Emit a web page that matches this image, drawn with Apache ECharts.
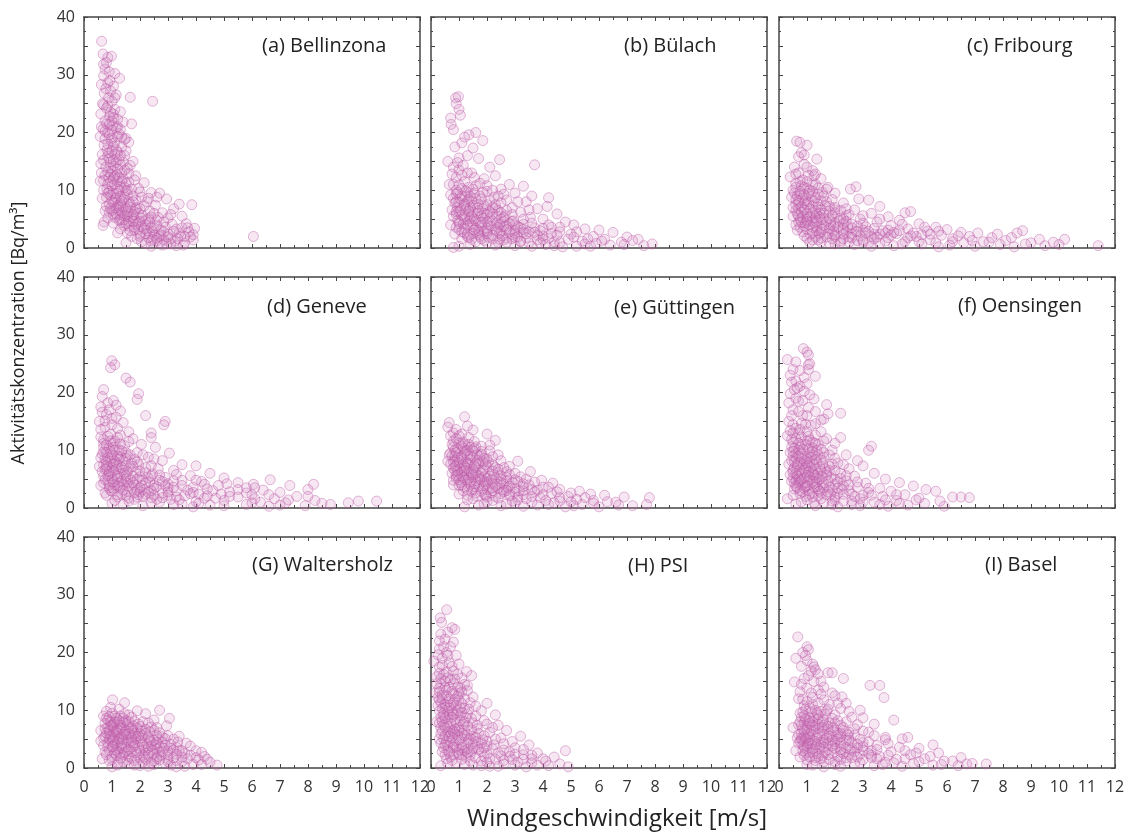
<!DOCTYPE html>
<html>
<head>
<meta charset="utf-8">
<script src="https://cdn.jsdelivr.net/npm/echarts@6/dist/echarts.min.js"></script>
<style>
  html, body { margin: 0; padding: 0; background: #fff; }
  #windChart { width: 1138px; height: 834px; }
</style>
</head>
<body>
<div id="windChart"></div>
<script>
// Stationen (Reihenfolge: Zeile für Zeile)
const stationNames = ['(a) Bellinzona', '(b) Bülach', '(c) Fribourg', '(d) Geneve', '(e) Güttingen', '(f) Oensingen', '(G) Waltersholz', '(H) PSI', '(I) Basel']
const xTicks = [0, 1, 2, 3, 4, 5, 6, 7, 8, 9, 10, 11, 12]
const yTicks = [0, 10, 20, 30, 40]

// [Windgeschwindigkeit m/s, Aktivitätskonzentration Bq/m3]
const bellinzona = [[0.63,35.8],[0.68,33.6],[0.98,33.2],[0.8,32.1],[0.75,31.0],[0.9,30.5],[0.7,29.8],[1.27,29.4],[0.85,28.6],[0.62,28.3],[1.05,28.0],[0.95,27.2],[0.72,26.8],[1.15,26.5],[0.88,26.0],[1.0,25.4],[1.65,26.1],[2.45,25.4],[0.66,25.0],[0.8,24.2],[1.1,24.0],[1.3,23.6],[0.6,23.2],[0.92,22.8],[1.2,22.3],[0.75,22.0],[1.4,21.8],[1.7,21.5],[1.02,21.2],[0.68,20.6],[0.85,20.0],[1.25,19.8],[0.58,19.3],[1.5,19.0],[0.97,18.6],[1.1,18.2],[0.72,17.8],[1.35,17.5],[1.6,18.3],[0.82,17.0],[1.2,16.6],[0.65,16.2],[1.45,16.0],[0.9,15.5],[1.05,15.2],[1.75,15.0],[0.6,14.6],[1.3,14.4],[0.78,14.0],[1.55,13.8],[1.0,13.3],[0.62,13.0],[1.18,12.7],[1.85,12.5],[0.88,12.2],[1.4,12.0],[0.7,11.7],[1.6,11.4],[2.15,11.3],[1.08,11.0],[0.58,11.6],[1.3,10.6],[1.95,10.3],[0.82,10.2],[1.5,9.9],[2.4,9.6],[1.15,9.5],[2.7,9.5],[0.95,9.1],[1.75,9.0],[2.05,8.8],[0.65,8.6],[2.95,8.5],[1.4,8.4],[2.25,8.0],[1.05,7.9],[1.65,7.6],[3.85,7.5],[2.55,7.4],[0.8,7.2],[1.9,7.0],[3.2,6.8],[1.25,6.6],[2.35,6.4],[0.9,6.2],[2.8,6.1],[1.55,5.9],[3.5,5.5],[2.1,5.6],[1.1,5.3],[3.0,5.2],[1.8,5.0],[2.6,4.8],[0.72,4.5],[1.35,4.4],[3.65,4.2],[2.2,4.0],[1.6,3.8],[2.9,3.6],[3.3,3.3],[1.95,3.2],[0.68,3.9],[2.45,2.9],[3.75,2.8],[1.2,2.6],[2.75,2.3],[3.45,2.1],[1.7,2.0],[2.3,1.8],[3.1,1.6],[3.9,1.4],[2.6,1.3],[2.05,1.1],[3.6,0.9],[2.95,0.7],[1.5,0.9],[3.3,0.4],[2.4,0.3],[6.05,2.0],[1.0,19.0],[1.15,17.0],[0.88,16.5],[1.25,15.3],[1.05,14.2],[0.95,12.8],[1.35,13.0],[1.2,11.5],[1.0,10.8],[0.9,9.8],[1.45,10.5],[1.3,8.9],[1.1,8.3],[1.6,8.0],[1.4,7.0],[1.2,7.4],[1.8,6.3],[1.5,6.8],[1.0,6.5],[2.0,6.8],[1.7,5.4],[2.3,5.1],[1.45,4.9],[2.5,6.0],[2.0,4.6],[2.4,3.5],[1.85,4.1],[1.3,5.8],[3.8,1.9],[3.5,3.5],[2.2,2.5],[2.7,2.0]]
const bellinzonaDicht = [[0.7,24.8],[0.95,23.5],[1.05,22.6],[0.8,21.5],[1.15,20.8],[0.62,21.0],[0.9,19.6],[1.3,20.5],[0.75,18.9],[1.05,17.6],[1.45,18.8],[0.85,15.9],[1.15,14.8],[0.7,15.2],[1.4,14.9],[0.95,13.9],[1.25,12.2],[1.6,12.9],[0.75,12.6],[1.05,12.0],[1.5,11.2],[0.85,11.1],[1.25,9.9],[1.7,10.2],[0.7,10.0],[1.05,9.4],[1.55,9.3],[0.8,8.8],[1.35,8.1],[1.85,8.3],[0.9,7.6],[1.15,6.9],[1.65,7.1],[2.15,7.3],[0.75,6.4],[1.35,6.2],[1.95,6.0],[2.4,5.4],[1.05,5.7],[1.55,5.5],[2.65,5.3],[0.85,5.2],[1.25,4.8],[1.75,4.6],[2.2,4.7],[2.85,4.5],[1.05,4.3],[1.45,3.9],[2.05,3.7],[2.6,3.9],[3.15,4.1],[1.3,3.3],[1.8,3.1],[2.25,3.0],[2.75,3.1],[3.4,2.6],[1.55,2.6],[2.0,2.4],[2.5,2.2],[3.0,2.4],[3.6,2.0],[1.9,1.6],[2.45,1.5],[2.85,1.4],[3.25,1.2],[2.2,0.8],[2.7,0.9],[3.1,0.7],[3.55,0.5],[1.0,22.0],[0.85,24.6],[1.1,26.0],[0.78,27.6],[0.92,29.0],[1.1,30.2],[0.7,31.8],[0.85,33.0],[1.2,21.0],[1.35,19.2],[1.5,16.8],[1.65,14.3],[1.8,11.8],[2.0,9.7],[2.3,8.6],[2.6,8.8],[3.4,7.6],[3.1,5.8],[3.7,3.5],[3.9,2.3],[3.95,3.4]]
const bellinzonaKern = [[0.75,20.2],[1.0,20.4],[1.2,19.3],[0.85,18.0],[1.1,16.2],[1.3,16.0],[0.95,14.9],[1.2,13.6],[1.45,13.5],[0.85,13.2],[1.1,12.4],[1.35,11.6],[0.95,11.5],[1.2,10.2],[1.55,10.0],[0.85,9.5],[1.15,8.7],[1.45,8.8],[1.0,8.0],[1.3,7.7],[1.75,8.0],[0.95,6.9],[1.25,7.1],[1.55,6.3],[1.85,6.8],[1.15,6.0],[1.45,5.6],[1.75,5.8],[2.05,5.2],[1.3,5.0],[1.6,4.6],[1.95,4.3],[2.35,4.4],[1.5,4.2],[1.8,3.6],[2.15,3.4],[2.5,3.5],[2.85,2.8],[1.65,3.0],[2.0,2.0],[2.35,2.5],[2.6,1.7],[3.0,1.9],[3.35,1.6],[2.4,1.2],[2.8,0.5],[3.2,2.9],[1.0,16.8],[0.9,21.4],[1.05,23.2]]
const buelach = [[0.88,26.0],[0.98,26.2],[0.9,25.0],[1.0,24.0],[1.05,23.0],[0.7,22.5],[0.72,21.4],[0.8,20.5],[1.6,20.0],[1.35,19.6],[1.85,18.6],[1.2,19.2],[0.85,17.5],[1.5,17.3],[1.1,18.2],[0.6,15.0],[0.95,14.8],[2.45,15.3],[3.7,14.4],[1.3,16.0],[1.7,15.5],[2.1,14.0],[1.0,13.5],[1.45,13.0],[2.3,12.5],[0.75,12.8],[1.9,12.0],[2.8,11.0],[3.3,10.7],[1.2,11.5],[0.65,11.0],[1.6,10.8],[2.5,10.2],[0.9,10.0],[2.0,9.8],[3.0,9.5],[1.3,9.6],[3.6,9.0],[4.2,8.7],[0.7,9.2],[1.75,9.0],[2.25,8.8],[1.05,8.5],[2.7,8.3],[1.45,8.1],[3.4,8.0],[0.85,7.8],[2.0,7.5],[4.15,7.2],[1.2,7.3],[2.9,7.0],[1.65,7.0],[3.8,6.8],[0.75,6.6],[2.4,6.5],[1.0,6.3],[3.2,6.2],[1.9,6.0],[4.5,5.9],[1.35,5.8],[2.65,5.6],[0.8,5.5],[3.55,5.3],[2.1,5.2],[1.55,5.0],[4.0,5.0],[0.95,4.8],[2.95,4.7],[1.8,4.5],[4.8,4.5],[2.35,4.3],[1.15,4.2],[3.3,4.1],[5.1,4.0],[0.7,4.0],[2.7,3.8],[1.5,3.7],[4.3,3.6],[3.7,3.5],[2.0,3.4],[5.5,3.3],[1.0,3.2],[3.0,3.0],[6.0,3.1],[2.5,2.9],[4.6,2.8],[1.7,2.7],[6.5,2.7],[3.4,2.5],[0.85,2.4],[5.0,2.4],[2.2,2.2],[4.0,2.1],[1.3,2.0],[5.8,2.0],[3.1,1.9],[7.0,1.9],[2.7,1.7],[4.9,1.5],[6.2,1.5],[3.8,1.4],[1.9,1.3],[5.4,1.2],[7.4,1.5],[4.4,1.1],[6.8,1.0],[2.4,1.0],[3.5,0.9],[5.9,0.8],[7.9,0.7],[4.1,0.6],[6.4,0.5],[3.0,0.4],[5.2,0.3],[0.8,0.1],[1.0,0.3],[7.6,0.4],[4.7,0.2],[1.1,10.3],[1.4,9.0],[1.6,8.5],[1.25,6.8],[1.5,6.2],[2.2,7.0],[1.8,5.5],[2.5,5.0],[2.05,4.0],[1.35,4.6],[2.8,4.2],[3.2,3.5],[1.7,3.0],[2.4,3.6],[3.5,2.8],[2.9,2.3],[1.2,2.6],[3.9,3.0],[4.3,2.5],[2.0,2.5],[1.45,1.5],[2.6,1.4]]
const buelachDicht = [[0.8,14.0],[1.0,15.6],[1.15,14.3],[1.3,13.0],[0.9,12.2],[1.1,12.6],[1.55,12.2],[1.75,11.2],[0.8,11.0],[1.0,10.9],[1.35,10.5],[2.0,10.8],[2.2,10.0],[0.9,9.3],[1.2,8.9],[1.55,9.5],[1.85,9.6],[2.4,9.0],[2.6,9.3],[0.8,8.6],[1.0,7.9],[1.3,8.0],[1.7,7.6],[2.1,8.2],[2.5,7.8],[3.1,8.0],[0.95,7.0],[1.4,7.0],[1.85,6.8],[2.3,6.9],[2.7,6.5],[3.5,6.6],[0.9,5.9],[1.2,5.4],[1.65,6.0],[2.0,5.8],[2.35,5.5],[2.9,5.8],[3.3,5.0],[1.0,4.5],[1.4,5.1],[1.75,4.4],[2.2,4.7],[2.6,4.6],[3.0,4.0],[3.6,4.3],[4.2,4.0],[0.9,3.6],[1.3,3.9],[1.6,3.4],[2.3,3.3],[2.7,3.2],[3.3,3.2],[4.0,3.4],[4.6,3.6],[1.1,2.8],[1.5,2.5],[1.9,2.8],[2.45,2.5],[3.0,2.6],[3.7,2.7],[4.5,2.2],[5.2,2.8],[1.35,1.8],[1.75,2.0],[2.2,1.6],[2.9,1.6],[3.4,1.8],[4.2,1.7],[5.1,1.9],[5.6,1.6],[1.6,1.1],[2.0,0.9],[2.7,1.0],[3.2,1.2],[3.9,0.9],[4.6,0.9],[5.5,0.7],[6.1,1.2],[6.9,0.6],[7.2,1.3],[2.3,0.5],[3.6,0.3],[4.4,0.4],[5.7,0.3],[1.4,0.6]]
const buelachKern = [[0.95,9.6],[1.25,9.9],[1.5,10.2],[1.1,9.0],[1.35,8.4],[1.8,8.5],[0.9,8.0],[1.2,7.6],[1.5,7.4],[1.9,7.3],[2.3,7.5],[1.05,6.6],[1.35,6.4],[1.7,6.5],[2.1,6.3],[2.5,6.1],[0.9,6.3],[1.1,5.7],[1.45,5.5],[1.85,5.1],[2.2,5.9],[2.6,5.3],[1.2,4.9],[1.6,4.7],[2.0,4.5],[2.45,4.1],[2.9,4.6],[1.0,4.2],[1.4,4.1],[1.8,3.9],[2.15,3.8],[2.6,3.7],[3.1,3.7],[1.2,3.4],[1.55,3.1],[2.0,3.0],[2.35,2.9],[2.8,2.8],[3.3,2.7],[1.3,2.4],[1.7,2.3],[2.05,1.9],[2.55,2.1],[3.0,1.8],[3.8,2.2],[1.1,1.6],[1.8,1.6],[2.45,1.5],[3.2,1.1],[4.0,1.5]]
const fribourg = [[0.63,18.5],[0.75,18.3],[1.0,17.8],[0.8,16.5],[1.35,15.4],[0.9,14.5],[0.55,14.0],[1.2,13.4],[0.7,13.0],[1.05,12.6],[0.4,12.3],[1.5,12.0],[0.85,11.8],[0.6,11.2],[1.3,11.0],[1.75,10.5],[2.55,10.2],[2.75,10.6],[1.0,10.3],[0.5,10.0],[1.55,9.6],[0.75,9.4],[2.0,9.5],[1.15,9.0],[2.85,8.5],[3.2,8.3],[0.45,8.8],[1.7,8.0],[0.95,8.2],[2.3,7.8],[1.4,7.6],[3.6,7.2],[0.6,7.5],[2.0,7.0],[1.1,6.8],[2.7,6.6],[4.5,6.1],[4.7,6.3],[1.8,6.4],[0.8,6.2],[3.3,6.0],[1.35,5.8],[2.4,5.6],[0.5,5.5],[3.9,5.4],[1.6,5.2],[2.9,5.0],[1.0,5.0],[4.3,4.8],[2.15,4.7],[0.7,4.5],[3.5,4.5],[1.25,4.4],[5.0,4.2],[2.6,4.1],[1.85,4.0],[4.0,3.9],[0.9,3.8],[3.1,3.7],[5.6,3.6],[1.5,3.5],[2.3,3.4],[4.6,3.3],[6.0,3.2],[0.65,3.1],[3.7,3.0],[1.95,2.9],[5.3,2.9],[2.8,2.8],[6.5,2.7],[1.2,2.6],[4.2,2.5],[7.1,2.6],[3.4,2.4],[2.0,2.3],[5.8,2.2],[8.7,3.0],[8.5,2.6],[6.8,2.0],[0.9,2.1],[4.9,2.0],[2.5,1.9],[7.6,1.8],[3.9,1.8],[1.5,1.7],[6.2,1.6],[9.3,1.5],[10.2,1.5],[5.4,1.4],[3.0,1.4],[8.1,1.3],[2.2,1.2],[7.3,1.1],[4.5,1.1],[9.8,1.0],[1.1,1.0],[6.6,0.9],[8.8,0.7],[3.6,0.8],[5.1,0.7],[7.9,0.6],[2.7,0.6],[6.1,0.5],[9.5,0.4],[4.1,0.4],[11.4,0.4],[7.0,0.3],[8.4,0.2],[5.7,0.2],[10.0,0.6],[1.8,0.8],[3.3,0.3],[0.8,10.8],[1.1,10.0],[0.65,9.0],[1.3,8.7],[0.9,7.8],[1.2,7.2],[1.5,6.6],[0.7,6.8],[1.0,6.0],[1.9,5.7],[1.3,5.2],[0.85,5.3],[1.7,4.6],[2.2,5.2],[1.1,4.0],[1.6,3.9],[2.6,3.5],[1.35,3.0],[2.1,3.6],[3.0,3.1],[1.75,2.5],[2.4,2.7],[3.3,2.0],[1.3,1.9],[2.9,2.1],[3.8,2.6]]
const fribourgDicht = [[0.7,15.8],[0.9,16.1],[0.6,12.8],[1.0,14.0],[1.25,12.5],[0.75,11.5],[1.0,11.5],[1.4,10.4],[0.55,9.5],[0.9,9.2],[1.2,9.8],[1.6,9.0],[0.7,8.2],[1.05,8.0],[1.5,8.2],[1.9,8.4],[0.5,7.0],[0.8,7.2],[1.3,6.4],[1.65,7.3],[2.2,6.5],[0.65,5.9],[1.0,5.5],[1.45,6.0],[2.0,6.1],[2.5,5.8],[0.75,4.9],[1.2,4.7],[1.5,4.9],[2.0,4.3],[2.4,4.6],[3.0,4.3],[0.6,4.0],[0.95,4.3],[1.35,3.7],[1.8,3.4],[2.3,3.0],[2.8,3.8],[3.4,3.4],[3.9,3.1],[1.0,3.2],[1.45,2.5],[2.0,2.0],[2.6,2.4],[3.1,2.6],[3.6,2.4],[4.3,3.0],[4.8,2.6],[5.2,3.6],[1.2,1.4],[1.7,1.9],[2.3,1.6],[2.8,1.3],[3.4,1.6],[4.0,2.2],[4.6,1.8],[5.1,2.3],[5.7,2.9],[6.4,2.1],[1.5,1.0],[2.0,0.7],[2.5,1.0],[3.2,0.9],[3.8,1.2],[4.4,0.7],[5.0,1.1],[5.6,0.9],[6.2,1.1],[6.9,1.3],[7.5,1.0],[8.3,1.8],[9.0,0.9],[7.8,2.4],[4.4,4.1],[3.6,5.0],[3.0,5.6],[2.4,6.8],[1.7,10.2],[1.3,12.8]]
const fribourgKern = [[0.6,10.5],[0.9,10.5],[1.2,10.9],[0.75,9.8],[1.05,9.4],[1.4,9.3],[0.6,8.4],[0.85,8.6],[1.25,8.1],[0.7,7.7],[1.0,7.5],[1.4,7.1],[1.8,7.2],[0.6,6.5],[0.9,6.6],[1.2,6.1],[1.6,6.0],[2.0,6.6],[0.7,5.6],[1.1,5.4],[1.45,5.4],[1.8,5.1],[2.3,5.0],[0.8,4.5],[1.0,4.6],[1.35,4.5],[1.85,4.5],[2.3,4.2],[0.75,3.6],[1.2,3.6],[1.55,3.2],[1.95,3.8],[2.45,3.7],[0.85,2.8],[1.1,2.4],[1.5,2.8],[1.9,2.5],[2.3,2.4],[2.75,2.9],[1.0,1.7],[1.4,1.4],[1.9,1.6],[2.6,1.8],[3.2,2.9],[3.5,1.9],[4.1,2.7],[4.7,2.1],[5.4,2.4],[2.2,0.9],[3.0,1.1]]
const geneve = [[0.99,25.5],[1.1,24.8],[0.95,24.3],[1.5,22.5],[1.65,21.8],[0.7,20.5],[1.95,19.8],[0.65,19.3],[1.9,18.8],[1.15,17.8],[0.85,18.2],[1.05,18.6],[0.6,17.5],[1.3,16.8],[2.2,16.0],[0.8,16.2],[1.0,15.5],[0.55,15.0],[2.9,15.0],[2.85,14.4],[1.4,14.8],[0.75,14.0],[1.2,13.8],[1.6,13.2],[2.4,13.0],[0.95,12.8],[2.4,12.2],[0.6,12.3],[1.75,12.0],[1.1,11.6],[2.05,11.0],[0.7,11.2],[1.45,10.8],[2.55,10.5],[0.9,10.4],[1.25,10.0],[3.05,9.5],[1.9,9.6],[0.65,9.3],[1.55,9.0],[2.3,8.8],[1.0,8.6],[2.8,8.2],[0.8,8.0],[1.7,7.8],[3.5,7.5],[1.2,7.4],[2.2,7.0],[0.55,7.2],[4.0,7.3],[2.65,6.8],[1.4,6.6],[3.2,6.5],[0.9,6.3],[1.85,6.2],[4.5,6.0],[2.45,5.9],[1.1,5.7],[3.8,5.6],[0.7,5.5],[2.0,5.4],[2.9,5.3],[5.0,5.2],[1.5,5.0],[3.5,4.8],[4.2,4.6],[0.85,4.7],[2.35,4.5],[6.65,4.9],[5.5,4.4],[1.25,4.3],[3.0,4.2],[6.05,4.1],[7.35,3.9],[8.2,4.1],[1.8,4.0],[4.8,3.9],[0.6,3.9],[2.6,3.7],[3.9,3.6],[5.8,3.5],[1.05,3.4],[4.4,3.3],[8.0,3.2],[2.15,3.2],[6.4,3.1],[3.3,3.0],[1.55,2.9],[5.2,2.8],[7.0,2.7],[0.75,2.6],[2.8,2.6],[4.1,2.4],[6.0,2.3],[1.95,2.3],[3.6,2.1],[7.6,2.0],[5.5,1.9],[1.2,1.9],[2.4,1.8],[4.7,1.7],[6.8,1.6],[3.1,1.5],[8.25,1.3],[5.0,1.3],[9.8,1.2],[10.45,1.2],[1.6,1.2],[4.0,1.1],[6.3,1.0],[2.7,1.0],[7.2,0.9],[9.44,0.9],[8.5,0.8],[3.5,0.7],[5.8,0.6],[1.0,0.8],[4.5,0.5],[2.1,0.4],[7.9,0.4],[6.6,0.3],[3.9,0.2],[0.95,9.8],[1.2,9.0],[0.75,8.5],[1.4,8.2],[1.0,7.0],[1.6,6.8],[0.8,6.8],[1.3,5.9],[1.75,5.5],[1.0,5.0],[2.1,4.8],[1.4,4.1],[2.5,4.0],[1.7,3.5],[0.95,3.0],[2.0,2.8],[3.0,3.4],[1.35,2.4],[2.5,2.2],[3.3,1.9],[1.8,1.5]]
const geneveDicht = [[0.65,16.6],[0.9,17.0],[1.15,15.7],[0.75,15.1],[1.0,14.4],[0.6,13.6],[1.3,12.6],[0.85,12.4],[1.05,11.2],[1.6,11.5],[0.7,10.5],[1.3,11.1],[0.8,9.6],[1.1,10.0],[1.5,9.6],[2.1,9.2],[0.6,8.7],[0.95,8.0],[1.3,8.9],[1.8,8.4],[2.5,8.5],[0.7,7.5],[1.15,7.8],[1.5,7.3],[1.95,7.5],[2.4,7.3],[0.65,6.3],[1.05,6.4],[1.45,6.0],[2.2,6.1],[2.7,5.7],[3.3,5.8],[0.85,5.6],[1.2,5.1],[1.65,4.9],[2.3,5.2],[2.7,4.8],[3.2,4.7],[4.0,4.8],[0.7,4.3],[1.1,4.0],[1.55,4.3],[2.05,3.9],[2.9,3.9],[3.5,3.9],[4.3,4.1],[5.1,4.2],[0.9,3.5],[1.3,3.6],[1.9,3.1],[2.4,3.0],[3.7,3.1],[4.6,3.0],[5.5,3.2],[6.1,3.5],[0.8,2.2],[1.5,2.2],[2.2,2.4],[3.0,2.2],[3.9,2.7],[4.9,2.4],[5.8,2.6],[6.6,2.3],[1.1,1.3],[1.9,1.9],[2.6,1.5],[3.4,1.4],[4.3,1.7],[5.2,2.0],[6.1,1.6],[7.3,1.4],[8.0,2.0],[1.4,0.6],[2.4,0.9],[3.2,0.6],[4.1,0.8],[5.0,0.4],[6.0,0.9],[7.0,0.5],[8.8,0.6]]
const geneveKern = [[0.7,11.8],[0.95,11.6],[1.2,12.2],[0.8,10.9],[1.05,10.5],[1.35,9.9],[0.7,9.7],[1.0,9.2],[1.25,8.5],[1.65,9.2],[0.85,8.7],[1.1,8.1],[1.5,8.6],[1.9,8.0],[0.8,7.3],[1.05,7.6],[1.35,7.0],[1.75,7.2],[0.75,6.7],[1.15,6.7],[1.55,6.3],[2.0,6.4],[0.9,5.9],[1.2,5.5],[1.5,5.6],[1.9,5.0],[2.4,5.5],[0.75,4.9],[1.05,4.5],[1.35,4.6],[1.75,4.4],[2.2,4.3],[2.8,4.6],[0.9,4.0],[1.2,3.8],[1.6,3.8],[2.0,3.5],[2.5,3.4],[3.2,3.6],[1.0,2.9],[1.4,3.1],[1.8,2.7],[2.3,2.7],[3.0,2.8],[3.8,2.5],[1.2,2.3],[1.6,1.7],[2.1,2.0],[2.8,1.8],[4.4,2.1]]
const guettingen = [[1.2,15.8],[0.65,14.8],[1.3,14.2],[0.6,14.0],[1.5,13.5],[0.8,13.0],[2.0,12.8],[1.0,12.5],[0.9,12.0],[2.3,11.7],[1.15,11.4],[0.75,11.0],[2.1,10.9],[1.6,10.6],[0.95,10.3],[1.3,10.0],[1.8,9.8],[0.7,9.5],[2.4,9.2],[1.1,9.0],[0.65,9.2],[1.5,8.8],[2.0,8.5],[0.85,8.3],[3.1,8.1],[0.6,8.1],[1.25,8.0],[1.7,7.7],[1.4,7.7],[2.2,7.5],[0.9,7.3],[2.6,7.0],[1.05,6.8],[1.9,6.7],[3.55,6.3],[1.35,6.4],[2.4,6.2],[0.75,6.0],[1.6,6.0],[2.8,5.8],[1.1,5.6],[2.1,5.5],[3.2,5.4],[0.9,5.2],[1.75,5.1],[2.5,5.0],[3.95,4.8],[1.3,4.8],[4.35,4.3],[2.0,4.5],[2.9,4.4],[1.55,4.2],[3.5,4.0],[0.8,4.0],[2.3,3.8],[4.0,3.6],[1.2,3.6],[3.0,3.4],[1.85,3.3],[4.6,3.2],[2.6,3.1],[5.3,2.9],[1.45,2.9],[3.7,2.8],[2.15,2.6],[4.3,2.5],[1.0,2.4],[3.3,2.3],[5.7,2.4],[2.8,2.1],[4.9,2.0],[1.65,2.0],[6.9,1.9],[3.9,1.8],[2.4,1.7],[7.8,1.8],[5.2,1.5],[3.1,1.4],[1.3,1.4],[4.6,1.2],[6.3,1.1],[2.0,1.1],[3.6,1.0],[5.8,0.8],[7.7,0.6],[2.7,0.7],[4.2,0.6],[6.7,0.5],[1.7,0.5],[5.1,0.4],[3.3,0.3],[4.8,0.2],[6.0,0.2],[1.2,0.2],[1.0,11.2],[1.4,10.5],[1.2,9.6],[1.65,9.2],[0.95,8.8],[1.85,8.0],[1.15,7.5],[1.6,7.0],[2.0,7.2],[0.85,6.5],[1.3,5.8],[2.3,5.2],[1.5,5.4],[1.9,4.6],[1.05,4.4],[2.6,4.2],[1.7,3.8],[2.2,3.0],[3.3,3.0],[1.5,3.2],[2.5,2.5],[3.6,2.0],[2.0,1.9]]
const guettingenDicht = [[0.7,12.5],[0.9,13.6],[1.1,12.8],[1.35,12.2],[0.8,11.6],[1.2,11.0],[1.55,11.5],[1.8,10.7],[0.85,10.0],[1.15,10.4],[1.5,9.9],[2.1,9.9],[0.75,9.0],[1.3,9.2],[1.75,9.0],[2.2,8.9],[1.0,8.3],[1.4,8.4],[1.9,8.6],[2.5,8.2],[0.7,7.6],[1.2,7.2],[1.6,7.8],[2.3,7.0],[2.8,7.2],[0.8,6.9],[1.1,6.2],[1.5,6.6],[1.8,6.1],[2.2,6.4],[2.7,6.3],[3.0,6.0],[0.95,5.8],[1.35,5.2],[1.7,5.6],[2.0,5.1],[2.5,5.6],[3.4,5.0],[0.8,4.8],[1.2,4.9],[1.6,4.7],[2.2,4.3],[2.7,4.7],[3.1,4.6],[3.7,4.5],[1.0,3.9],[1.4,4.1],[1.9,3.9],[2.4,3.4],[2.8,3.8],[3.3,3.7],[4.2,3.6],[1.15,3.0],[1.6,2.6],[2.0,3.2],[2.6,2.8],[3.0,2.7],[3.6,3.2],[4.5,2.8],[5.0,2.6],[1.3,2.2],[1.9,2.4],[2.3,2.0],[3.1,1.9],[4.0,2.3],[4.6,1.8],[5.5,1.8],[6.2,2.2],[1.5,1.6],[2.2,1.3],[2.9,1.2],[3.4,1.6],[4.1,1.3],[5.0,1.1],[5.8,1.3],[6.6,1.0],[1.9,0.7],[2.5,0.4],[3.0,0.8],[3.8,0.5],[4.4,0.9],[5.4,0.6],[7.2,0.4]]
const guettingenKern = [[0.8,10.6],[1.1,10.7],[1.35,11.0],[0.9,9.6],[1.25,9.9],[1.55,10.3],[0.85,9.0],[1.1,8.6],[1.4,9.0],[1.8,9.3],[0.8,8.0],[1.0,7.8],[1.3,7.7],[1.65,8.2],[2.05,8.0],[0.85,7.2],[1.25,6.9],[1.55,7.3],[1.95,7.5],[0.95,6.4],[1.2,6.5],[1.45,6.1],[1.85,6.5],[2.4,6.7],[0.9,5.6],[1.15,5.3],[1.5,5.8],[1.9,5.4],[2.25,5.7],[2.7,5.3],[1.0,4.9],[1.4,4.5],[1.75,4.9],[2.15,4.9],[2.5,4.4],[3.0,4.9],[1.1,4.0],[1.55,3.7],[1.95,4.2],[2.35,4.1],[2.75,3.5],[3.3,4.2],[1.3,3.2],[1.8,2.9],[2.2,3.5],[2.7,3.0],[3.15,3.0],[3.8,3.1],[1.95,2.2],[2.8,2.4]]
const oensingen = [[0.87,27.6],[1.0,27.0],[1.05,26.5],[0.3,25.7],[0.6,25.3],[1.1,25.0],[1.05,24.8],[1.05,24.0],[1.3,22.8],[0.6,22.0],[0.45,21.8],[0.75,21.1],[0.55,20.5],[0.9,20.2],[0.4,19.8],[1.25,18.9],[0.7,18.5],[1.7,17.9],[1.05,17.4],[0.5,17.0],[2.2,16.4],[1.75,16.3],[0.85,16.0],[1.6,15.4],[0.35,15.0],[1.3,14.6],[0.95,14.5],[0.6,13.8],[1.5,13.2],[2.2,12.2],[1.7,12.0],[0.3,12.5],[0.8,12.3],[1.1,11.8],[0.5,11.4],[2.0,11.2],[1.4,11.0],[3.3,10.7],[3.2,10.0],[0.75,10.5],[1.9,10.0],[1.2,9.8],[0.4,9.6],[2.4,9.2],[1.0,9.0],[1.6,8.8],[0.6,8.6],[2.8,8.2],[1.35,8.0],[2.1,7.8],[0.35,7.6],[0.85,7.5],[3.0,7.3],[1.8,7.2],[1.15,7.0],[2.5,6.8],[0.5,6.6],[1.5,6.4],[3.4,6.0],[0.95,6.2],[2.2,6.0],[0.4,5.8],[1.3,5.6],[2.7,5.5],[1.85,5.3],[0.7,5.1],[3.8,5.0],[1.1,4.9],[2.4,4.7],[4.3,4.4],[0.45,4.6],[1.6,4.4],[3.1,4.3],[2.0,4.1],[0.85,4.0],[4.8,3.8],[1.35,3.7],[2.8,3.6],[3.6,3.4],[0.55,3.3],[2.25,3.2],[5.25,3.2],[1.05,3.0],[4.0,2.9],[1.75,2.8],[3.2,2.7],[5.6,2.9],[0.75,2.5],[2.6,2.4],[4.5,2.3],[6.2,1.9],[6.5,1.9],[6.8,1.8],[1.4,2.1],[3.7,2.0],[2.0,1.9],[5.0,1.7],[0.3,1.6],[2.9,1.6],[1.0,1.4],[4.2,1.3],[5.75,1.2],[2.3,1.2],[3.4,1.0],[1.6,0.9],[5.2,0.8],[0.6,0.7],[2.6,0.6],[4.6,0.5],[3.9,0.3],[1.3,0.4],[5.9,0.3],[2.1,0.2],[0.8,11.0],[1.2,10.4],[0.6,9.4],[0.9,8.2],[1.4,9.2],[1.0,7.8],[0.65,7.2],[1.3,6.8],[1.7,6.2],[0.8,6.0],[1.1,5.4],[1.45,5.0],[0.6,4.8],[2.0,5.0],[1.25,4.2],[1.8,3.6],[0.9,3.4],[2.5,3.0],[1.5,2.6],[1.2,1.9],[2.1,2.5],[3.0,2.2],[1.9,1.2]]
const oensingenDicht = [[0.5,24.0],[0.75,23.8],[0.9,22.6],[0.4,23.0],[0.65,20.8],[1.0,21.5],[0.35,18.2],[0.6,19.0],[0.85,18.6],[1.1,19.6],[0.45,16.0],[0.7,16.7],[1.0,16.0],[1.3,16.7],[0.5,14.4],[0.8,14.7],[1.15,14.3],[1.5,15.2],[0.4,13.4],[0.7,12.9],[1.0,13.2],[1.3,12.6],[0.6,12.0],[0.95,11.0],[1.2,11.4],[1.6,11.6],[0.45,10.6],[0.7,10.0],[1.05,10.3],[1.5,10.2],[1.8,9.2],[0.5,9.0],[0.8,9.4],[1.15,8.8],[1.3,8.4],[2.0,8.6],[0.45,8.2],[0.75,7.9],[1.05,7.3],[1.55,7.7],[2.3,7.5],[0.55,7.0],[0.9,6.6],[1.2,6.2],[1.65,6.8],[2.0,6.5],[0.6,6.0],[1.0,5.6],[1.35,5.2],[1.7,5.7],[2.4,5.6],[0.5,5.2],[0.8,4.9],[1.2,4.6],[1.55,4.0],[2.1,4.5],[2.8,4.5],[0.7,4.3],[1.0,3.8],[1.4,3.3],[1.9,3.1],[2.3,3.8],[3.2,3.4],[0.6,3.8],[0.85,2.8],[1.2,2.7],[1.7,2.3],[2.3,2.4],[2.7,2.0],[3.3,2.2],[4.2,2.3],[0.5,2.2],[0.95,2.0],[1.5,1.6],[2.0,1.4],[2.6,1.2],[3.0,1.0],[3.8,1.4],[4.9,1.4],[0.8,1.1],[1.25,0.9],[1.9,0.6],[2.9,0.4],[3.6,0.6],[4.3,0.8]]
const oensingenKern = [[0.5,13.0],[0.75,13.6],[1.05,12.4],[0.45,11.9],[0.7,11.2],[1.0,11.6],[1.3,11.2],[0.55,10.3],[0.85,10.2],[1.1,9.6],[1.35,10.0],[0.5,9.8],[0.7,9.0],[1.0,8.5],[1.2,9.2],[1.6,9.6],[0.55,8.0],[0.8,8.6],[1.1,8.0],[1.5,8.3],[0.65,7.6],[0.95,7.0],[1.25,7.5],[1.45,7.1],[1.9,7.6],[0.5,6.2],[0.75,6.6],[1.05,6.3],[1.4,6.0],[1.8,6.5],[0.65,5.6],[0.9,5.2],[1.25,5.7],[1.55,5.4],[2.2,5.1],[0.55,4.3],[0.75,4.7],[1.0,4.4],[1.35,4.5],[1.75,4.7],[2.5,4.0],[0.65,3.5],[0.95,3.7],[1.25,3.6],[1.6,3.5],[2.1,3.4],[0.75,3.0],[1.1,2.4],[1.45,2.9],[1.85,2.4]]
const waltersholz = [[1.02,11.8],[1.45,11.3],[0.95,10.5],[2.7,10.0],[1.9,9.9],[0.8,9.8],[1.25,10.2],[3.05,8.6],[2.5,8.3],[0.7,9.0],[1.6,9.2],[2.2,9.4],[1.1,9.0],[2.95,7.3],[1.4,8.6],[0.85,8.3],[1.8,8.1],[2.3,7.8],[1.2,7.9],[0.6,6.5],[1.55,7.5],[0.95,7.4],[2.0,7.2],[2.6,7.0],[1.35,6.9],[0.75,6.8],[1.75,6.5],[2.35,6.3],[1.05,6.2],[3.4,5.5],[0.9,5.9],[1.5,5.8],[2.1,5.6],[2.8,5.4],[1.25,5.3],[3.2,5.0],[0.7,5.2],[1.85,5.0],[2.5,4.8],[1.0,4.6],[3.65,4.3],[1.6,4.4],[2.25,4.2],[0.6,4.7],[2.9,4.0],[1.35,3.9],[3.3,3.6],[0.85,3.6],[1.95,3.5],[2.6,3.3],[4.0,3.0],[1.15,3.1],[3.0,2.9],[1.7,2.8],[0.75,2.8],[2.3,2.6],[3.6,2.5],[4.3,2.0],[1.4,2.3],[2.75,2.2],[1.0,2.0],[3.2,1.8],[2.0,1.7],[4.1,1.4],[0.65,1.6],[1.55,1.4],[2.5,1.2],[3.5,1.1],[4.5,1.0],[1.2,0.9],[2.9,0.8],[3.9,0.6],[1.8,0.5],[4.75,0.5],[2.3,0.3],[3.3,0.2],[1.0,0.2],[1.1,8.0],[1.3,7.4],[1.05,6.9],[1.5,6.6],[1.9,6.9],[1.2,6.0],[1.65,5.5],[0.9,5.0],[1.4,4.9],[2.0,4.6],[1.1,4.2],[1.8,4.0],[2.4,3.8],[1.25,3.4],[2.2,3.1],[1.6,3.2],[2.7,2.7],[1.9,2.3],[1.3,2.5],[3.4,3.0],[2.6,1.9],[0.9,1.3],[2.1,1.0],[3.0,1.5]]
const waltersholzDicht = [[0.8,8.6],[1.0,9.5],[1.3,9.0],[1.5,8.2],[0.75,7.7],[1.05,7.6],[1.4,7.9],[1.75,7.3],[2.1,8.0],[0.85,7.0],[1.2,6.6],[1.6,7.0],[2.2,6.7],[2.5,6.5],[0.8,6.1],[1.1,5.6],[1.45,6.2],[1.8,6.0],[2.0,5.9],[2.7,6.1],[0.75,5.5],[1.0,5.3],[1.35,5.4],[1.7,5.2],[2.3,5.4],[2.65,5.0],[3.0,5.6],[0.85,4.3],[1.2,4.5],[1.55,4.8],[2.05,5.2],[2.4,4.5],[2.8,4.5],[3.35,4.5],[0.7,3.9],[1.05,3.8],[1.5,3.6],[1.75,4.4],[2.15,3.6],[2.55,4.0],[3.1,3.4],[3.8,3.8],[0.9,3.1],[1.2,2.8],[1.55,2.9],[2.0,3.0],[2.45,3.1],[2.85,3.4],[3.5,3.0],[4.2,2.7],[0.8,2.3],[1.15,2.2],[1.6,2.0],[2.1,2.2],[2.5,2.5],[3.0,2.3],[3.8,2.2],[4.0,1.8],[1.0,1.5],[1.4,1.1],[1.8,1.3],[2.2,1.5],[2.7,1.4],[3.3,1.3],[3.7,1.6],[4.4,1.5],[1.2,0.5],[1.6,0.8],[2.0,0.4],[2.5,0.6],[3.1,0.5],[3.6,0.3],[4.2,0.6]]
const waltersholzKern = [[0.9,8.9],[1.15,8.6],[1.45,9.4],[1.7,8.8],[0.95,8.0],[1.25,8.2],[1.6,8.0],[1.95,7.6],[1.0,7.3],[1.3,6.9],[1.7,6.9],[2.05,6.4],[2.4,7.1],[0.9,6.5],[1.15,6.3],[1.4,5.8],[1.85,5.5],[2.2,6.0],[2.6,5.6],[0.95,5.5],[1.25,5.0],[1.6,5.9],[1.95,5.5],[2.35,4.9],[2.9,5.1],[1.05,4.9],[1.35,4.3],[1.7,4.7],[2.1,4.1],[2.6,4.4],[3.1,4.1],[1.0,3.7],[1.35,3.5],[1.75,3.7],[2.3,3.5],[2.7,3.6],[3.2,3.1],[1.1,2.6],[1.45,2.6],[1.85,2.7],[2.3,2.2],[2.8,2.8],[3.3,2.4],[1.3,1.7],[1.7,1.7],[2.15,1.9],[2.6,1.6],[3.0,1.1],[3.5,1.9],[2.4,0.9]]
const psi = [[0.56,27.4],[0.33,26.0],[0.38,25.2],[0.75,24.3],[0.85,24.0],[0.35,23.2],[0.5,22.3],[0.7,21.0],[0.3,20.6],[0.55,20.0],[0.9,19.5],[0.4,19.0],[0.1,18.5],[0.65,18.2],[0.3,17.5],[1.27,16.7],[0.8,16.8],[1.45,16.0],[0.45,16.2],[0.2,15.8],[0.7,15.3],[1.2,14.5],[1.3,14.3],[0.35,14.6],[0.95,14.0],[0.55,13.5],[0.15,13.0],[1.1,13.2],[0.8,12.8],[1.5,12.3],[0.4,12.0],[1.0,11.8],[2.0,11.2],[0.6,11.5],[1.6,10.7],[0.25,10.8],[1.2,10.3],[0.75,10.0],[1.8,9.9],[0.45,9.5],[2.3,9.2],[1.05,9.0],[1.45,8.6],[0.6,8.4],[0.2,8.0],[1.9,8.2],[0.9,7.8],[2.4,7.4],[1.3,7.3],[0.35,7.0],[1.65,6.8],[2.7,6.5],[0.75,6.5],[2.1,6.2],[1.1,6.0],[0.5,5.6],[3.2,5.5],[1.5,5.5],[2.5,5.2],[0.3,5.0],[1.85,4.9],[0.9,4.7],[2.9,4.6],[1.3,4.4],[4.8,3.0],[3.5,4.0],[2.25,4.0],[0.6,3.8],[1.65,3.6],[3.0,3.5],[1.0,3.2],[2.6,3.1],[0.4,2.8],[3.8,2.6],[1.45,2.9],[2.0,2.5],[3.3,2.3],[0.8,2.3],[4.4,1.9],[2.8,2.0],[1.25,1.9],[3.6,1.6],[0.55,1.6],[2.3,1.5],[4.1,1.2],[1.8,1.2],[3.1,1.0],[0.9,0.9],[4.6,0.7],[2.6,0.7],[3.8,0.5],[1.5,0.5],[0.35,0.4],[4.9,0.2],[2.1,0.3],[3.4,0.2],[0.5,10.5],[0.9,10.8],[0.65,9.2],[1.2,8.0],[0.45,7.5],[1.0,7.0],[0.7,6.0],[1.3,5.8],[0.55,4.5],[1.1,5.2],[1.6,4.6],[0.8,4.0],[2.0,3.8],[1.3,3.3],[0.6,3.0],[1.8,2.8],[2.4,2.6],[1.1,2.4],[1.6,1.8],[2.9,1.5],[0.75,1.3],[2.0,1.0]]
const psiDicht = [[0.3,22.0],[0.6,23.5],[0.45,21.0],[0.8,21.8],[0.25,19.6],[0.6,19.5],[0.4,17.8],[0.75,17.6],[1.0,18.0],[0.3,16.4],[0.55,16.6],[0.95,16.2],[0.2,14.6],[0.5,15.0],[0.85,15.4],[1.1,15.6],[0.3,13.8],[0.65,14.0],[1.0,12.9],[1.3,13.4],[0.25,12.2],[0.55,12.5],[0.85,11.9],[1.2,12.0],[0.35,11.3],[0.7,10.9],[1.05,10.4],[1.4,11.3],[0.3,9.9],[0.6,9.8],[0.9,9.5],[1.3,9.4],[1.6,9.0],[0.35,8.8],[0.75,8.8],[1.05,8.2],[1.5,7.8],[2.0,7.6],[0.3,7.8],[0.6,7.2],[0.85,6.8],[1.2,6.6],[1.7,6.0],[2.2,7.0],[0.4,6.4],[0.65,5.5],[0.95,5.7],[1.4,5.1],[1.9,5.6],[2.3,5.0],[0.35,4.3],[0.7,4.6],[1.1,4.0],[1.5,4.2],[2.0,4.6],[2.6,4.2],[0.45,3.5],[0.9,3.6],[1.2,3.0],[1.7,3.2],[2.2,3.3],[2.8,2.8],[3.3,3.2],[0.5,2.3],[0.95,2.7],[1.4,2.3],[1.9,2.0],[2.5,2.1],[3.0,2.4],[3.6,2.2],[0.7,1.9],[1.1,1.5],[1.4,1.2],[2.1,1.6],[2.6,1.3],[3.3,1.5],[4.0,1.6],[0.6,0.8],[1.2,0.6],[1.8,0.4],[2.4,0.3],[3.0,0.5],[3.6,0.9],[4.2,0.4]]
const psiKern = [[0.35,15.5],[0.6,15.6],[0.8,14.6],[0.3,13.2],[0.5,13.9],[0.75,13.3],[1.05,13.8],[0.4,12.6],[0.65,12.0],[0.95,12.4],[0.3,11.8],[0.5,11.0],[0.8,11.3],[1.1,11.2],[0.4,10.3],[0.65,10.4],[0.95,10.0],[1.35,10.2],[0.45,9.1],[0.8,9.3],[1.1,9.6],[0.5,8.6],[0.85,8.3],[1.25,8.7],[0.4,8.1],[0.7,7.7],[1.15,7.6],[1.65,7.4],[0.5,7.0],[0.8,6.4],[1.0,6.5],[1.45,6.6],[0.35,5.9],[0.6,6.3],[0.85,5.9],[1.2,5.6],[1.6,5.3],[0.45,5.1],[0.75,5.3],[1.0,4.8],[1.35,4.8],[1.8,4.3],[0.5,4.0],[0.8,3.6],[1.1,3.5],[1.5,3.4],[1.9,3.5],[0.65,2.7],[1.0,2.3],[1.3,2.6]]
const basel = [[0.67,22.7],[1.0,21.0],[1.05,20.5],[0.85,20.0],[0.95,19.5],[0.6,19.0],[1.2,18.0],[1.25,17.5],[1.3,17.0],[1.75,16.5],[1.9,16.5],[1.05,16.0],[2.3,15.5],[0.55,14.9],[3.25,14.3],[3.6,14.3],[0.8,14.5],[1.5,15.0],[3.75,12.2],[1.9,13.0],[2.25,12.3],[1.4,13.5],[1.0,13.8],[2.1,11.2],[0.7,12.0],[1.6,11.8],[2.9,10.0],[1.2,11.0],[0.9,10.8],[1.75,10.2],[2.5,9.8],[4.1,8.3],[1.35,9.5],[0.75,9.5],[2.0,9.2],[3.0,8.7],[1.1,8.6],[1.6,8.4],[2.4,8.0],[0.9,7.8],[3.4,7.6],[0.5,7.0],[0.7,7.5],[1.3,7.3],[1.95,7.0],[2.7,6.8],[1.0,6.6],[1.55,6.4],[3.2,6.2],[2.2,6.0],[0.8,6.0],[2.1,6.0],[1.2,5.7],[2.7,5.7],[1.8,5.5],[3.8,5.3],[4.4,5.05],[4.6,5.3],[0.65,5.2],[3.8,4.9],[2.4,4.8],[1.05,4.7],[1.5,4.5],[3.0,4.4],[2.0,4.2],[5.5,4.0],[0.85,4.0],[3.5,3.9],[4.3,3.6],[1.3,3.6],[2.6,3.4],[5.0,3.4],[1.75,3.2],[0.6,3.0],[3.3,3.0],[4.0,2.8],[2.2,2.8],[5.7,2.6],[1.1,2.6],[2.9,2.4],[4.7,2.3],[1.55,2.1],[3.6,2.0],[6.5,1.8],[0.75,1.9],[2.4,1.8],[5.2,1.6],[4.2,1.5],[3.0,1.4],[1.3,1.3],[5.9,1.2],[2.0,1.1],[3.8,1.0],[6.9,0.8],[7.4,0.7],[6.7,0.7],[4.8,0.8],[2.7,0.7],[1.0,0.6],[5.5,0.5],[3.4,0.4],[4.4,0.3],[2.2,0.3],[1.6,0.2],[1.0,11.5],[1.3,10.0],[0.9,9.0],[1.5,9.8],[1.2,8.0],[1.8,7.8],[1.0,7.2],[1.4,6.8],[2.3,7.0],[0.9,5.5],[1.6,5.8],[2.5,5.2],[1.2,4.8],[1.9,4.8],[0.9,4.6],[2.2,3.8],[1.5,3.9],[2.8,3.5],[1.0,3.3],[1.9,2.5],[3.2,2.5],[2.5,2.3],[1.3,1.8],[3.5,1.6],[1.8,1.5]]
const baselDicht = [[0.8,17.6],[1.0,18.6],[1.15,16.8],[1.4,16.3],[0.9,15.5],[1.25,15.0],[1.6,14.0],[0.75,13.2],[1.15,13.0],[1.5,12.8],[2.0,12.5],[0.85,11.9],[1.2,12.2],[1.4,11.3],[1.8,11.0],[2.4,11.2],[0.95,10.2],[1.15,9.7],[1.65,9.3],[2.2,10.3],[0.8,8.8],[1.05,8.2],[1.4,8.5],[1.9,8.6],[2.6,8.8],[0.75,8.0],[1.2,7.4],[1.6,7.4],[2.0,7.8],[2.8,7.5],[0.85,6.8],[1.15,6.4],[1.75,6.7],[2.3,6.5],[3.0,6.4],[0.7,5.8],[1.05,5.9],[1.35,5.3],[1.8,6.0],[2.2,5.4],[2.9,5.0],[3.4,5.6],[0.8,4.9],[1.15,4.2],[1.6,4.9],[2.0,4.6],[2.6,4.4],[3.2,4.5],[0.7,4.3],[1.0,3.8],[1.45,3.4],[1.9,3.8],[2.4,3.5],[3.0,3.7],[3.9,4.2],[0.85,3.0],[1.2,2.8],[1.65,2.7],[2.2,3.2],[2.7,2.8],[3.5,3.2],[4.5,3.0],[0.9,2.2],[1.4,2.0],[2.1,2.0],[2.8,1.9],[3.9,2.2],[4.9,2.6],[5.4,2.0],[1.0,1.4],[1.6,1.1],[2.4,1.2],[3.3,1.8],[4.5,1.6],[5.0,1.1],[6.2,1.2],[1.2,0.5],[2.0,0.6],[2.9,0.9],[3.7,0.6],[4.1,0.9],[5.8,0.6],[6.4,0.4]]
const baselKern = [[0.85,9.7],[1.1,10.4],[1.4,9.2],[1.7,9.9],[0.95,8.5],[1.25,8.7],[1.55,8.0],[2.1,8.2],[0.8,7.4],[1.1,7.7],[1.4,7.6],[1.75,7.2],[2.2,7.4],[0.9,6.5],[1.25,6.6],[1.55,7.0],[1.95,6.5],[2.5,6.2],[0.8,5.2],[1.1,5.4],[1.4,5.8],[1.7,5.2],[2.05,5.6],[2.45,5.8],[0.95,5.1],[1.3,4.6],[1.6,4.4],[2.1,5.0],[2.5,4.8],[0.75,4.6],[1.05,4.3],[1.35,4.0],[1.75,4.2],[2.2,4.3],[2.8,4.1],[0.9,3.6],[1.2,3.3],[1.6,3.6],[2.0,3.4],[2.55,3.1],[0.95,2.6],[1.35,2.5],[1.75,2.3],[2.3,2.5],[3.0,3.1],[1.1,1.9],[1.5,1.6],[2.2,1.5],[2.6,1.8],[3.3,2.2]]

const stationData = [
  bellinzona.concat(bellinzonaDicht, bellinzonaKern),
  buelach.concat(buelachDicht, buelachKern),
  fribourg.concat(fribourgDicht, fribourgKern),
  geneve.concat(geneveDicht, geneveKern),
  guettingen.concat(guettingenDicht, guettingenKern),
  oensingen.concat(oensingenDicht, oensingenKern),
  waltersholz.concat(waltersholzDicht, waltersholzKern),
  psi.concat(psiDicht, psiKern),
  basel.concat(baselDicht, baselKern)
]

// Layout (Pixel)
const colLeft = [84, 431, 779]
const rowTop = [17, 277, 537]
const panelW = 336
const panelH = 231
const labelPos = [[262, 46], [624, 46], [967, 46], [267, 307], [614, 308], [958, 306], [252, 565], [628, 566], [985, 565]]

const fontFamily = '"Open Sans", "Noto Sans", sans-serif'
const lineColor = '#444'

const grids = []
const xAxes = []
const yAxes = []
const series = []
const graphics = []

stationData.forEach((data, i) => {
  const row = Math.floor(i / 3)
  const col = i % 3
  grids.push({ left: colLeft[col], top: rowTop[row], width: panelW, height: panelH })

  // x unten + Spiegelachse oben
  ;['bottom', 'top'].forEach((pos) => {
    xAxes.push({
      gridIndex: i,
      type: 'value',
      position: pos,
      min: xTicks[0],
      max: xTicks[xTicks.length - 1],
      interval: 1,
      axisLine: { show: true, onZero: false, lineStyle: { color: lineColor, width: 1.5 } },
      axisTick: { show: true, inside: true, length: 4, lineStyle: { color: lineColor } },
      minorTick: { show: true, splitNumber: 2, length: 3, lineStyle: { color: lineColor } },
      splitLine: { show: false },
      axisLabel: {
        show: pos === 'bottom' && row === 2,
        color: '#333',
        fontSize: 16,
        fontFamily: fontFamily,
        margin: 11,
        showMinLabel: true,
        showMaxLabel: true
      }
    })
  })

  // y links + Spiegelachse rechts
  ;['left', 'right'].forEach((pos) => {
    yAxes.push({
      gridIndex: i,
      type: 'value',
      position: pos,
      min: yTicks[0],
      max: yTicks[yTicks.length - 1],
      interval: 5,
      axisLine: { show: true, onZero: false, lineStyle: { color: lineColor, width: 1.5 } },
      axisTick: { show: true, inside: true, length: 4, lineStyle: { color: lineColor } },
      minorTick: { show: true, splitNumber: 2, length: 2, lineStyle: { color: lineColor } },
      splitLine: { show: false },
      axisLabel: {
        show: pos === 'left' && col === 0,
        color: '#333',
        fontSize: 16,
        fontFamily: fontFamily,
        margin: 9,
        formatter: (v) => (yTicks.indexOf(v) >= 0 ? String(v) : '')
      }
    })
  })

  series.push({
    name: stationNames[i],
    type: 'scatter',
    xAxisIndex: i * 2,
    yAxisIndex: i * 2,
    symbol: 'circle',
    symbolSize: 10,
    clip: true,
    itemStyle: {
      color: 'rgba(205, 120, 185, 0.22)',
      borderColor: 'rgba(185, 80, 160, 0.5)',
      borderWidth: 1
    },
    emphasis: { disabled: true },
    data: data
  })

  graphics.push({
    type: 'text',
    x: labelPos[i][0],
    y: labelPos[i][1],
    style: {
      text: stationNames[i],
      font: '20px ' + fontFamily,
      fill: '#222',
      verticalAlign: 'middle'
    }
  })
})

// Achsentitel
graphics.push({
  type: 'text',
  x: 617,
  y: 819,
  style: {
    text: 'Windgeschwindigkeit [m/s]',
    font: '24px ' + fontFamily,
    fill: '#222',
    align: 'center',
    verticalAlign: 'middle'
  }
})
graphics.push({
  type: 'text',
  x: 19,
  y: 333,
  rotation: Math.PI / 2,
  style: {
    text: 'Aktivitätskonzentration [Bq/m³]',
    font: '18px ' + fontFamily,
    fill: '#222',
    align: 'center',
    verticalAlign: 'middle'
  }
})

const myChart = echarts.init(document.getElementById('windChart'), null, { renderer: 'canvas' })
myChart.setOption({
  animation: false,
  backgroundColor: '#fff',
  grid: grids,
  xAxis: xAxes,
  yAxis: yAxes,
  series: series,
  graphic: graphics
})
</script>
</body>
</html>
